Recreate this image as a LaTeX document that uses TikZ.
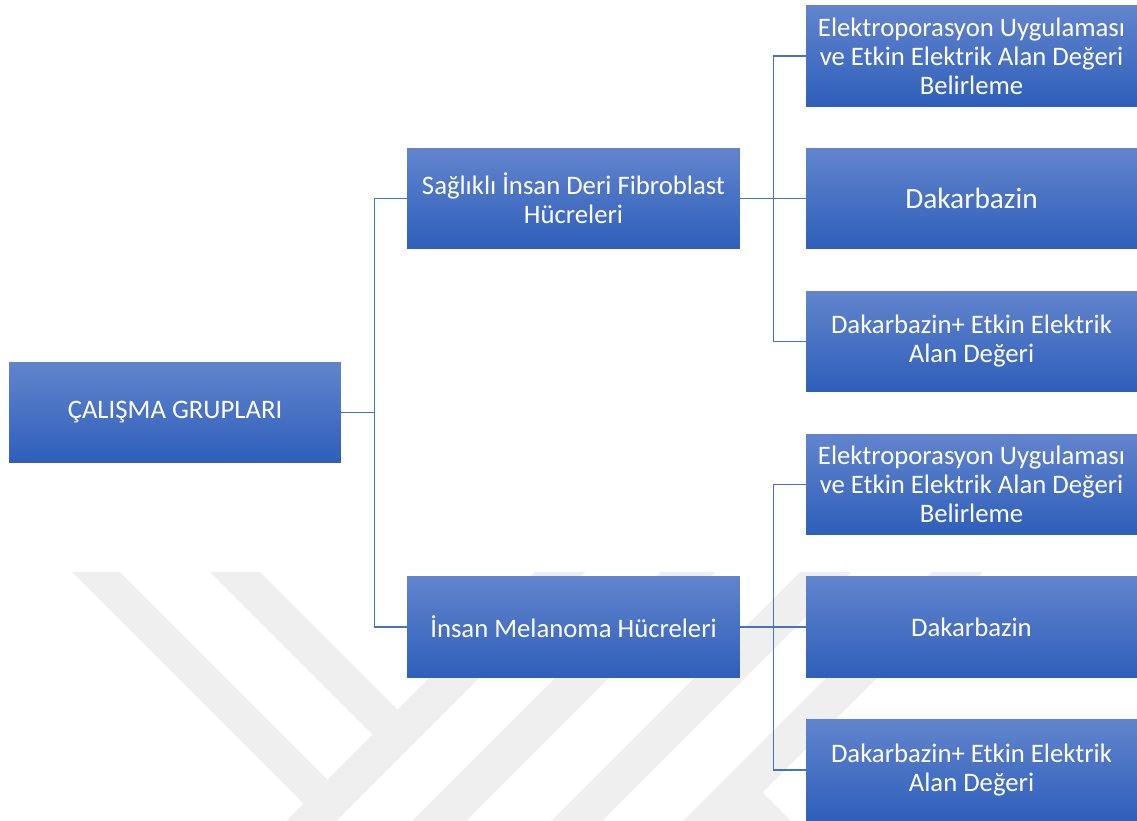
\documentclass[tikz,border=0pt]{standalone}
\usepackage{fontspec}
\setmainfont{Carlito}
\definecolor{boxtop}{RGB}{98,132,205}
\definecolor{boxbot}{RGB}{46,95,186}
\definecolor{linkblue}{RGB}{68,114,196}
\definecolor{wmgray}{RGB}{239,239,239}
\tikzset{
  grpbox/.style={minimum width=6.64cm, minimum height=2.02cm, inner sep=0pt,
    top color=boxtop, bottom color=boxbot, text=white, align=center,
    font=\fontsize{15.2}{16.5}\selectfont},
  link/.style={draw=linkblue, line width=0.7pt},
}

\begin{document}
\begin{tikzpicture}[x=0.02cm, y=-0.02cm]
  \useasboundingbox (0,0) rectangle (1137,821);
  % watermark stripes
  \fill[wmgray] (72,572) -- (120,572) -- (340,792) -- (316,816) -- cycle;
  \fill[wmgray] (210,572) -- (260,572) -- (410,722) -- (385,747) -- cycle;
  \fill[wmgray] (535,572) -- (585,572) -- (336,821) -- (286,821) -- cycle;
  \fill[wmgray] (661,572) -- (715,572) -- (466,821) -- (412,821) -- cycle;
  \fill[wmgray] (800,572) -- (851,572) -- (602,821) -- (551,821) -- cycle;
  \fill[wmgray] (932,572) -- (983,572) -- (734,821) -- (683,821) -- cycle;
  \fill[wmgray] (762,792) -- (791,821) -- (734,821) -- cycle;
  % root
  \node[grpbox] (root) at (175,412.5) {ÇALIŞMA GRUPLARI};
  % cell groups
  \node[grpbox, minimum width=6.66cm] (fibro) at (573.5,198.5) {Sağlıklı İnsan Deri Fibroblast\\Hücreleri};
  \node[grpbox, minimum width=6.66cm] (mela) at (573.5,627) {İnsan Melanoma Hücreleri};
  % treatments
  \node[grpbox, minimum width=6.62cm] (fibroA) at (971.5,56) {Elektroporasyon Uygulaması\\ve Etkin Elektrik Alan Değeri\\Belirleme};
  \node[grpbox, minimum width=6.62cm, font=\fontsize{16.7}{18}\selectfont] (fibroB) at (971.5,198.5) {Dakarbazin};
  \node[grpbox, minimum width=6.62cm] (fibroC) at (971.5,341.5) {Dakarbazin+ Etkin Elektrik\\Alan Değeri};
  \node[grpbox, minimum width=6.62cm] (melaA) at (971.5,484.5) {Elektroporasyon Uygulaması\\ve Etkin Elektrik Alan Değeri\\Belirleme};
  \node[grpbox, minimum width=6.62cm] (melaB) at (971.5,627) {Dakarbazin};
  \node[grpbox, minimum width=6.62cm] (melaC) at (971.5,770) {Dakarbazin+ Etkin Elektrik\\Alan Değeri};
  % connectors
  \draw[link] (root.east) -- ++(33,0) |- (fibro.west);
  \draw[link] (root.east) -- ++(33,0) |- (mela.west);
  \foreach \t in {fibroA,fibroB,fibroC}
    \draw[link] (fibro.east) -- ++(33,0) |- (\t.west);
  \foreach \t in {melaA,melaB,melaC}
    \draw[link] (mela.east) -- ++(33,0) |- (\t.west);
\end{tikzpicture}
\end{document}
